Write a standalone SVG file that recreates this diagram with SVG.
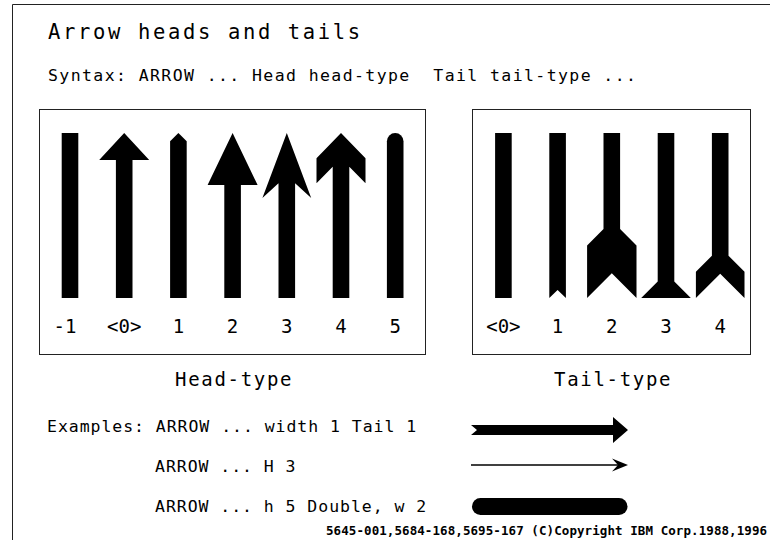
<svg xmlns="http://www.w3.org/2000/svg" width="770" height="540" viewBox="0 0 770 540">
  <style>
    .t { font-family: "DejaVu Sans Mono", "Liberation Mono", monospace; fill: #000; }
    .title { font-size: 20.5px; letter-spacing: 2.65px; }
    .syn { font-size: 16.5px; letter-spacing: 1.4px; }
    .line { font-size: 16.5px; letter-spacing: 0.95px; }
    .lbl { font-size: 19px; text-anchor: middle; }
    .cap { font-size: 19px; letter-spacing: 1.7px; }
    .copy { font-size: 12.5px; font-weight: bold; letter-spacing: 0.08px; }
    .frame { fill: none; stroke: #222; stroke-width: 1; }
    .shape { fill: #000; }
  </style>

  <rect width="770" height="540" fill="#fff"/>
  <path class="frame" d="M12.5,540 V4.5 H770"/>

  <text class="t title" x="48" y="39">Arrow heads and tails</text>
  <text class="t syn" x="48" y="81" xml:space="preserve">Syntax: ARROW ... Head head-type  Tail tail-type ...</text>

  <!-- Head types -->
  <g id="head-panel">
    <rect class="frame" x="39.5" y="109.5" width="386" height="245"/>
    <g id="head-m1"><rect class="shape" x="61.7" y="133" width="16.6" height="165"/></g>
    <g id="head-0"><polygon class="shape" points="124.2,133 149.2,160 132.5,160 132.5,298 115.9,298 115.9,160 99.2,160"/></g>
    <g id="head-1"><polygon class="shape" points="178.4,133 186.7,141.3 186.7,298 170.1,298 170.1,141.3"/></g>
    <g id="head-2"><polygon class="shape" points="232.6,133 257.6,185 240.9,185 240.9,298 224.3,298 224.3,185 207.6,185"/></g>
    <g id="head-3"><polygon class="shape" points="286.8,133 311.2,198 295.1,183.3 295.1,298 278.5,298 278.5,183.3 262.4,198"/></g>
    <g id="head-4"><polygon class="shape" points="341,133 365.5,158.3 365.5,183.3 349.3,166.7 349.3,298 332.7,298 332.7,166.7 316.5,183.3 316.5,158.3"/></g>
    <g id="head-5"><path class="shape" d="M386.9,298 V141.3 A8.3,8.3 0 0 1 403.5,141.3 V298 Z"/></g>
    <text class="t lbl" x="65" y="333">-1</text>
    <text class="t lbl" x="124.2" y="333">&lt;0&gt;</text>
    <text class="t lbl" x="178.4" y="333">1</text>
    <text class="t lbl" x="232.6" y="333">2</text>
    <text class="t lbl" x="286.8" y="333">3</text>
    <text class="t lbl" x="341" y="333">4</text>
    <text class="t lbl" x="395.2" y="333">5</text>
  </g>

  <!-- Tail types -->
  <g id="tail-panel">
    <rect class="frame" x="472.5" y="109.5" width="278" height="245"/>
    <g id="tail-0"><rect class="shape" x="495.1" y="133" width="16.6" height="165"/></g>
    <g id="tail-1"><polygon class="shape" points="549.3,133 565.9,133 565.9,298 557.6,290 549.3,298"/></g>
    <g id="tail-2"><polygon class="shape" points="603.5,133 620.1,133 620.1,229 636.5,245.5 636.5,298 611.8,273.3 587.1,298 587.1,245.5 603.5,229"/></g>
    <g id="tail-3"><polygon class="shape" points="657.7,133 674.3,133 674.3,281.5 690.8,298 641.2,298 657.7,281.5"/></g>
    <g id="tail-4"><polygon class="shape" points="711.9,133 728.5,133 728.5,255.7 744.5,271.7 744.5,298 720.2,273.7 695.9,298 695.9,271.7 711.9,255.7"/></g>
    <text class="t lbl" x="503.4" y="333">&lt;0&gt;</text>
    <text class="t lbl" x="557.6" y="333">1</text>
    <text class="t lbl" x="611.8" y="333">2</text>
    <text class="t lbl" x="666" y="333">3</text>
    <text class="t lbl" x="720.2" y="333">4</text>
  </g>

  <text class="t cap" x="175" y="386">Head-type</text>
  <text class="t cap" x="554" y="386">Tail-type</text>

  <text class="t line" x="47" y="432">Examples: ARROW ... width 1 Tail 1</text>
  <text class="t line" x="155" y="472">ARROW ... H 3</text>
  <text class="t line" x="155" y="512">ARROW ... h 5 Double, w 2</text>

  <!-- Example arrows -->
  <g id="connectors">
    <polygon class="shape" points="471,425 613,425 613,417 628,430 613,443 613,435 471,435 477,430"/>
    <line x1="471" y1="465" x2="620" y2="465" stroke="#000" stroke-width="1.5"/>
    <polygon class="shape" points="628,465 612,458.5 618,465 612,471.5"/>
    <line x1="480.5" y1="506.5" x2="619" y2="506.5" stroke="#000" stroke-width="17" stroke-linecap="round"/>
  </g>

  <text class="t copy" x="326" y="535">5645-001,5684-168,5695-167 (C)Copyright IBM Corp.1988,1996</text>
</svg>
